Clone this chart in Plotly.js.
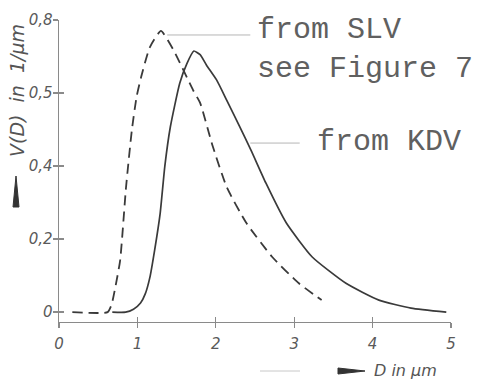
<!DOCTYPE html>
<html>
<head>
<meta charset="utf-8">
<script src="https://cdn.plot.ly/plotly-3.0.1.min.js"></script>
<style>html,body{margin:0;padding:0;background:#fff;}#chart{width:481px;height:381px;}</style>
</head>
<body>
<div id="chart"></div>
<script>
// SLV distribution (dashed)
var slvD = [0.17, 0.62, 0.67, 0.72, 0.78, 0.855, 0.93, 0.99, 1.05, 1.16, 1.30, 1.46, 1.71, 1.80, 1.96, 2.14, 2.39, 2.72, 3.06, 3.35];
var slvV = [0.0, 0.0, 0.02, 0.07, 0.142, 0.342, 0.50, 0.59, 0.646, 0.726, 0.770, 0.718, 0.608, 0.573, 0.455, 0.342, 0.244, 0.151, 0.079, 0.033];
// KDV distribution (solid)
var kdvD = [0.68, 0.85, 0.95, 1.04, 1.10, 1.16, 1.22, 1.29, 1.35, 1.42, 1.54, 1.63, 1.72, 1.80, 1.88, 2.01, 2.14, 2.30, 2.45, 2.64, 2.90, 3.23, 3.66, 4.08, 4.49, 4.94];
var kdvV = [0.0, 0.0, 0.008, 0.025, 0.05, 0.096, 0.17, 0.27, 0.40, 0.507, 0.627, 0.68, 0.715, 0.705, 0.677, 0.636, 0.58, 0.51, 0.443, 0.353, 0.244, 0.151, 0.079, 0.033, 0.011, 0.0];
// tick labels
var xTickVals = [0, 1, 2, 3, 4, 5];
var xTickText = ["0", "1", "2", "3", "4", "5"];
var yTickVals = [0, 0.2, 0.4, 0.6, 0.8];
var yTickText = ["0", "0,2", "0,4", "0,5", "0,8"];

var L = 59, R = 30, T = 20, B = 59, W = 481, H = 381;
var pw = W - L - R, ph = H - T - B;
function px(x) { return (x - L) / pw; }
function py(y) { return (H - B - y) / ph; }

var lineCol = "#3a3a3a";
var axCol = "#8a8a8a";
var txtCol = "#606060";
var tickFont = {family: "DejaVu Sans", size: 15, color: "#5a5a5a", style: "italic"};

var traces = [
  {x: slvD, y: slvV, mode: "lines", line: {color: lineCol, width: 1.8, dash: "10px,6px", shape: "spline", smoothing: 0.5}, showlegend: false, hoverinfo: "skip"},
  {x: kdvD, y: kdvV, mode: "lines", line: {color: lineCol, width: 1.7, shape: "spline", smoothing: 0.5}, showlegend: false, hoverinfo: "skip"},
  {x: [0], y: [0], xaxis: "x2", yaxis: "y2", mode: "markers", marker: {opacity: 0}, showlegend: false, hoverinfo: "skip"}
];

var layout = {
  width: W, height: H,
  margin: {l: L, r: R, t: T, b: B, pad: 0},
  paper_bgcolor: "#fff", plot_bgcolor: "#fff",
  xaxis: {range: [0, 5], tickvals: xTickVals, ticktext: xTickText, ticks: "outside", ticklen: 5, tickwidth: 1.3, tickcolor: axCol,
          showline: true, linecolor: axCol, linewidth: 1.4, showgrid: false, zeroline: false, tickfont: tickFont, ticklabelstandoff: 3, fixedrange: true},
  yaxis: {range: [-0.027, 0.8], tickvals: yTickVals, ticktext: yTickText, ticks: "outside", ticklen: 5, tickwidth: 1.3, tickcolor: axCol,
          showline: true, linecolor: axCol, linewidth: 1.4, showgrid: false, zeroline: false, tickfont: tickFont, ticklabelstandoff: -3, fixedrange: true},
  xaxis2: {range: [0, 5], overlaying: "x", tickvals: xTickVals, ticks: "inside", ticklen: 5, tickwidth: 1.3, tickcolor: axCol,
           showticklabels: false, showline: false, showgrid: false, zeroline: false, fixedrange: true},
  yaxis2: {range: [-0.027, 0.8], overlaying: "y", side: "left", tickvals: yTickVals, ticks: "inside", ticklen: 5, tickwidth: 1.3, tickcolor: axCol,
           showticklabels: false, showline: false, showgrid: false, zeroline: false, fixedrange: true},
  shapes: [
    {type: "line", xref: "x", yref: "y", x0: 1.38, x1: 2.44, y0: 0.759, y1: 0.759, line: {color: "#b5b5b5", width: 1}},
    {type: "line", xref: "x", yref: "y", x0: 2.44, x1: 3.07, y0: 0.463, y1: 0.463, line: {color: "#b5b5b5", width: 1}},
    {type: "line", xref: "paper", yref: "paper", x0: px(260), x1: px(300), y0: py(371), y1: py(371), line: {color: "#c8c8c8", width: 1}},
    {type: "path", xref: "paper", yref: "paper", path: "M " + px(338) + " " + py(368) + " L " + px(365) + " " + py(371) + " L " + px(338) + " " + py(374) + " Z", fillcolor: "#333", line: {color: "#333", width: 1}},
    {type: "path", xref: "paper", yref: "paper", path: "M " + px(13) + " " + py(207) + " L " + px(16) + " " + py(176) + " L " + px(19) + " " + py(207) + " Z", fillcolor: "#333", line: {color: "#333", width: 1}}
  ],
  annotations: [
    {xref: "paper", yref: "paper", x: px(255), y: py(49), xanchor: "left", yanchor: "middle", align: "left", showarrow: false,
     text: "from SLV<br>see Figure 7", font: {family: "Liberation Mono", size: 30, color: txtCol}},
    {xref: "paper", yref: "paper", x: px(315), y: py(142), xanchor: "left", yanchor: "middle", align: "left", showarrow: false,
     text: "from KDV", font: {family: "Liberation Mono", size: 30, color: txtCol}},
    {xref: "paper", yref: "paper", x: px(17), y: py(91), xanchor: "center", yanchor: "middle", textangle: -90, showarrow: false,
     text: "V(D)&nbsp; in&nbsp; 1/µm", font: {family: "DejaVu Sans", size: 19, color: "#555", style: "italic"}},
    {xref: "paper", yref: "paper", x: px(372), y: py(370), xanchor: "left", yanchor: "middle", showarrow: false,
     text: "D in µm", font: {family: "DejaVu Sans", size: 16, color: "#555", style: "italic"}}
  ]
};

Plotly.newPlot("chart", traces, layout, {displayModeBar: false, staticPlot: true});
</script>
</body>
</html>
